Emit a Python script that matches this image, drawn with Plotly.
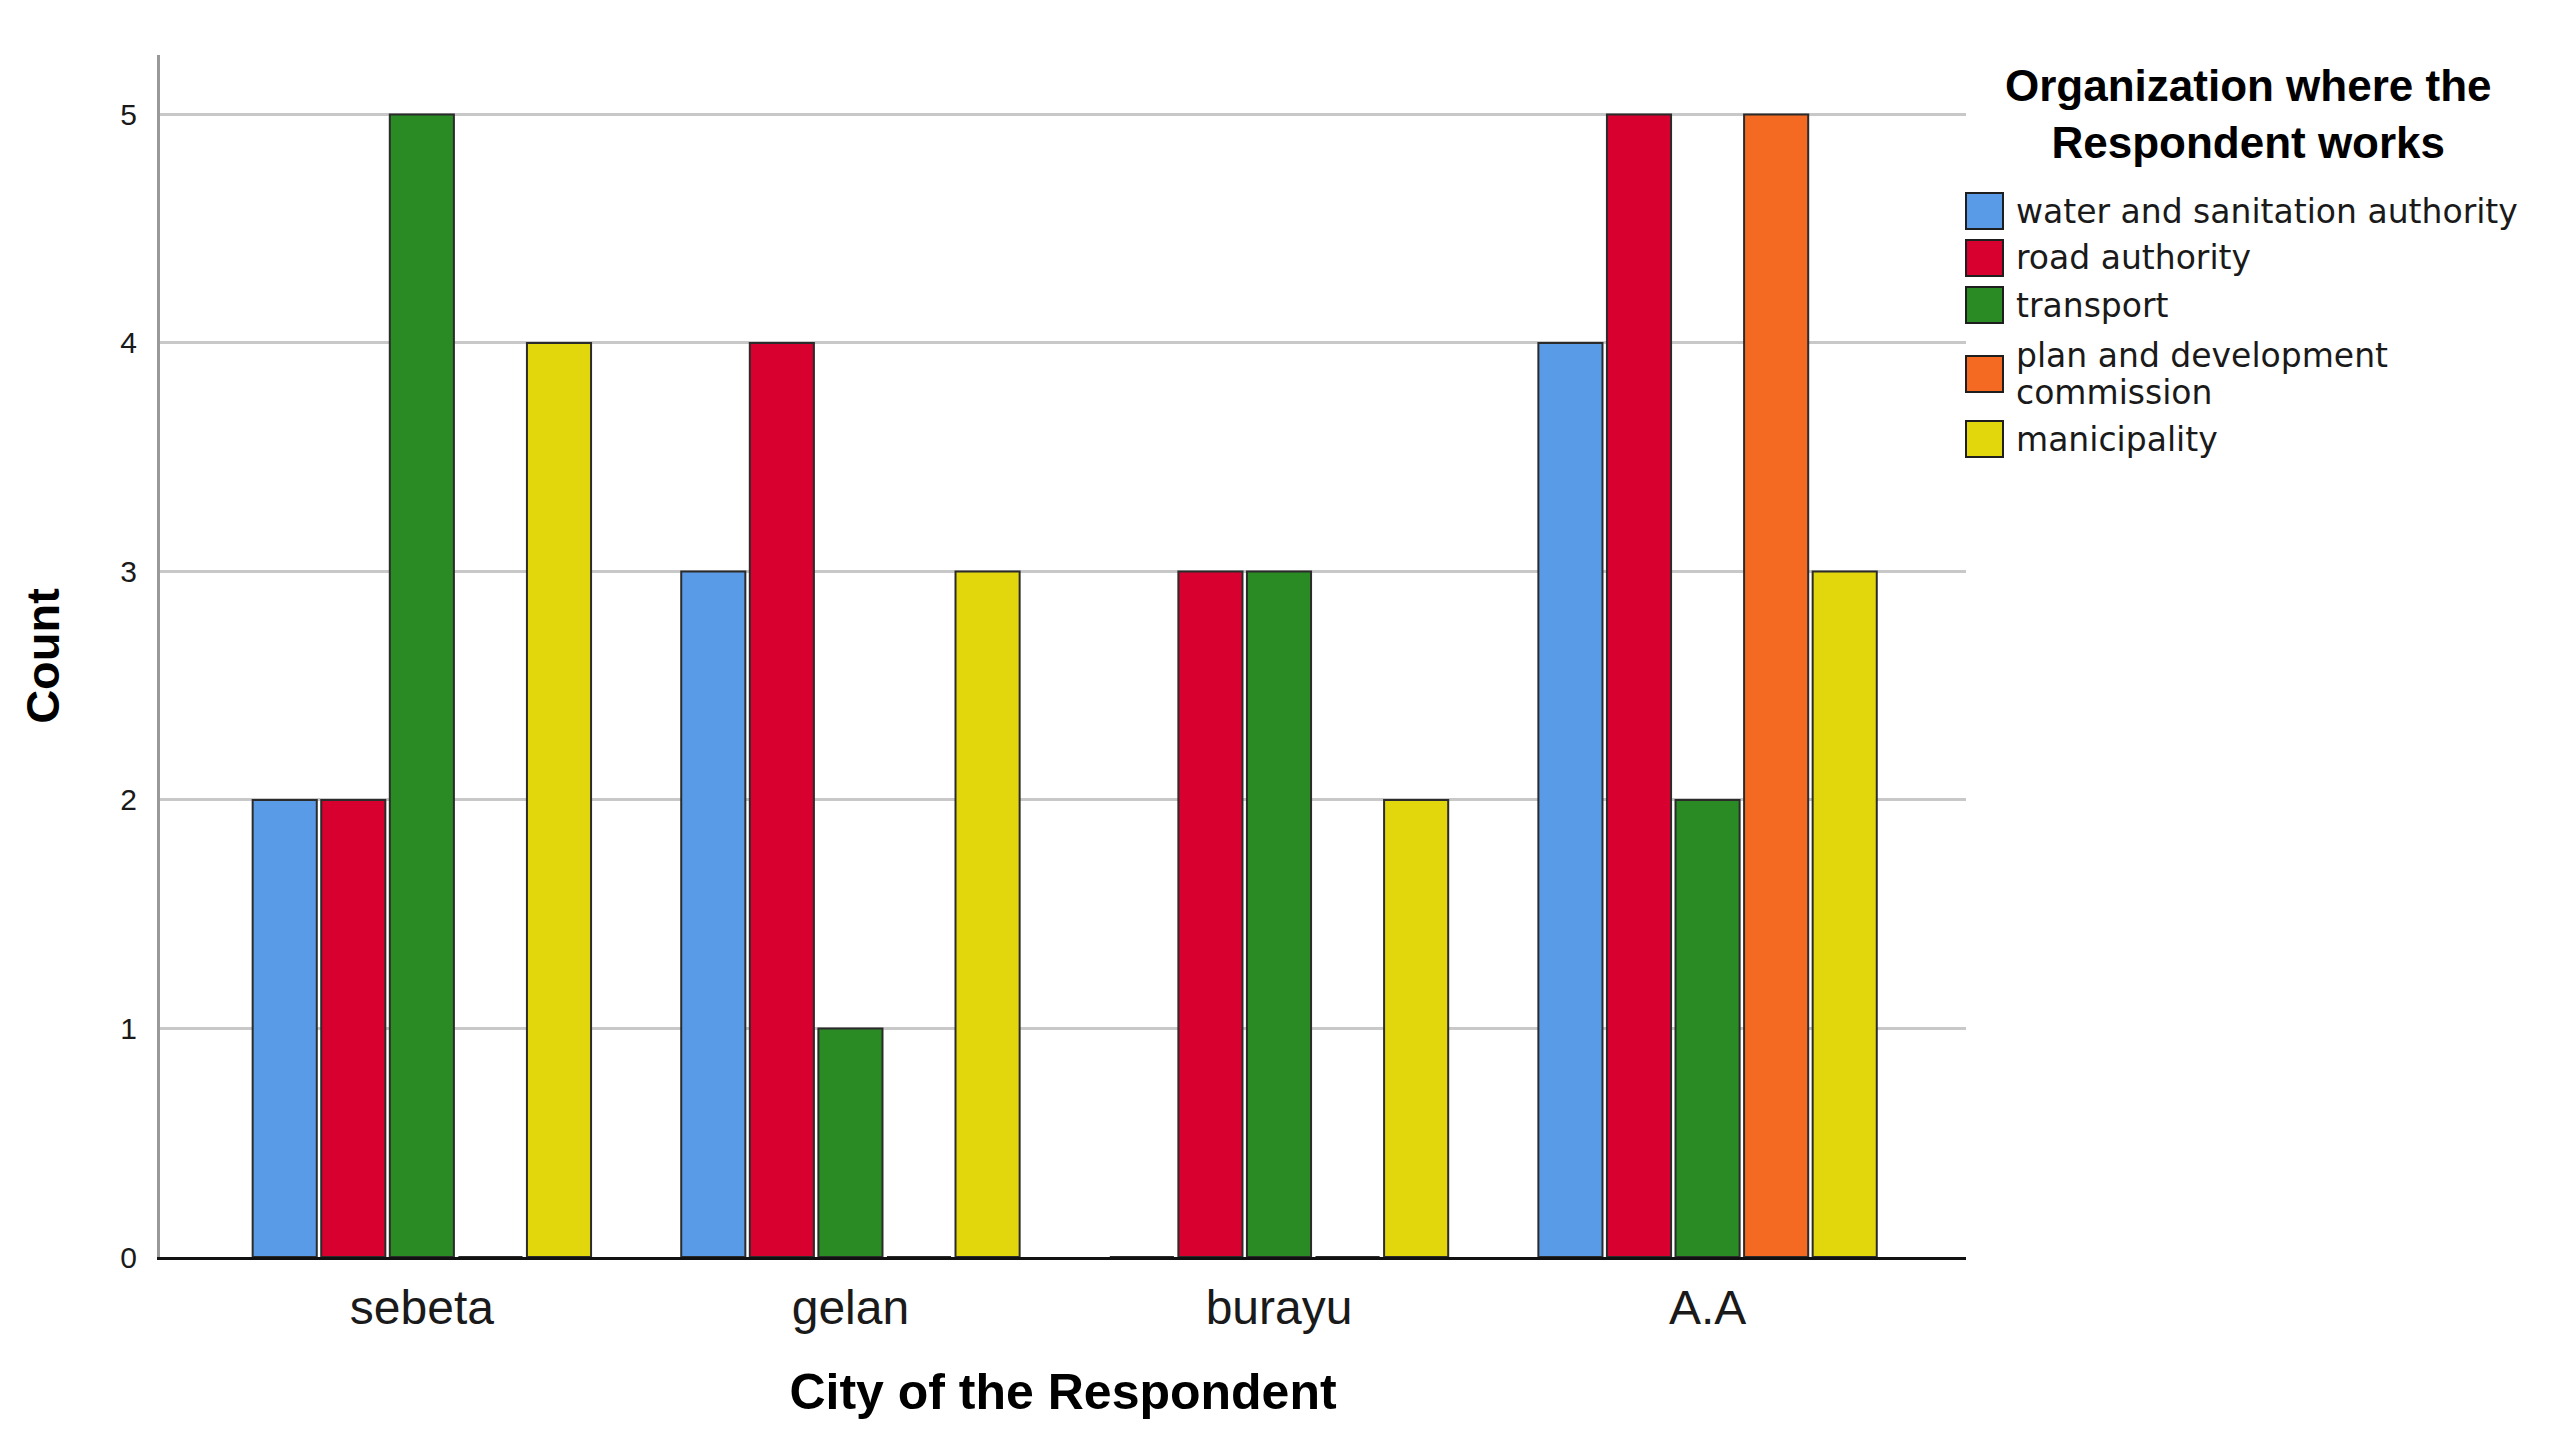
import plotly.graph_objects as go

# City of the Respondent (x categories)
cities = ["sebeta", "gelan", "burayu", "A.A"]

# Organization where the Respondent works - counts per city
water_sanitation = [2, 3, 0, 4]
road_authority = [2, 4, 3, 5]
transport = [5, 1, 3, 2]
plan_development = [0, 0, 0, 5]
manicipality = [4, 3, 2, 3]

org_names = [
    "water and sanitation authority",
    "road authority",
    "transport",
    "plan and development commission",
    "manicipality",
]
# legend labels as wrapped in the original
legend_lines = [
    ["water and sanitation authority"],
    ["road authority"],
    ["transport"],
    ["plan and development", "commission"],
    ["manicipality"],
]
org_values = [water_sanitation, road_authority, transport, plan_development, manicipality]
org_colors = ["#5A9BE8", "#D8002F", "#2A8A24", "#F46A23", "#E2D70C"]

legend_title = "Organization where the<br>Respondent works"
y_ticks = [0, 1, 2, 3, 4, 5]

# page geometry (pixels)
W, H = 2563, 1443
L, R, T, B = 152, 1958, 47, 1249


def px_x(px):
    return (px - L) / (R - L)


def px_y(py):
    return (B - py) / (B - T)


fig = go.Figure()
for name, values, color in zip(org_names, org_values, org_colors):
    fig.add_trace(go.Bar(
        x=cities,
        y=values,
        name=name,
        showlegend=False,
        marker=dict(color=color, line=dict(color="#2b2b2b", width=2)),
    ))

# legend drawn by hand so the swatches are as big as in the original
fig.add_annotation(
    xref="paper", yref="paper", x=px_x(2240), y=px_y(106),
    text="<b>" + legend_title + "</b>", showarrow=False, align="center",
    xanchor="center", yanchor="middle",
    font=dict(size=44, family="Liberation Sans, Arial", color="black"),
)

item_centers = [203, 250, 297, 366, 431]
for lines, color, yc in zip(legend_lines, org_colors, item_centers):
    fig.add_shape(
        type="rect", xref="paper", yref="paper",
        x0=px_x(1958), x1=px_x(1995), y0=px_y(yc - 18), y1=px_y(yc + 18),
        fillcolor=color, line=dict(color="#1e1e1e", width=2),
    )
    n = len(lines)
    for i, line in enumerate(lines):
        yy = yc + (i - (n - 1) / 2) * 37
        fig.add_annotation(
            xref="paper", yref="paper", x=px_x(2006), y=px_y(yy),
            text=line, showarrow=False,
            xanchor="left", yanchor="middle",
            font=dict(size=33, family="DejaVu Sans", color="#1a1a1a"),
        )

fig.update_layout(
    width=W,
    height=H,
    barmode="group",
    bargap=0.2,
    bargroupgap=0.065,
    plot_bgcolor="white",
    paper_bgcolor="white",
    font=dict(family="Liberation Sans, Arial", color="black"),
    margin=dict(l=L, r=W - R, t=T, b=H - B, autoexpand=False),
    showlegend=False,
)

fig.update_xaxes(
    range=[-0.611, 3.603],
    showline=True,
    linecolor="#111111",
    linewidth=3,
    showgrid=False,
    ticks="",
    ticklabelstandoff=6,
    tickfont=dict(size=48, color="#1a1a1a"),
    title=dict(text="<b>City of the Respondent</b>", font=dict(size=50), standoff=42),
)

fig.update_yaxes(
    range=[0, 5.26],
    tickvals=y_ticks,
    showline=True,
    linecolor="#999999",
    linewidth=3,
    showgrid=True,
    gridcolor="#c8c8c8",
    gridwidth=3,
    zeroline=False,
    ticks="",
    ticklabelstandoff=14,
    tickfont=dict(size=30, color="#1a1a1a"),
    title=dict(text="<b>Count</b>", font=dict(size=47), standoff=46),
)

fig.write_html("out.html")
